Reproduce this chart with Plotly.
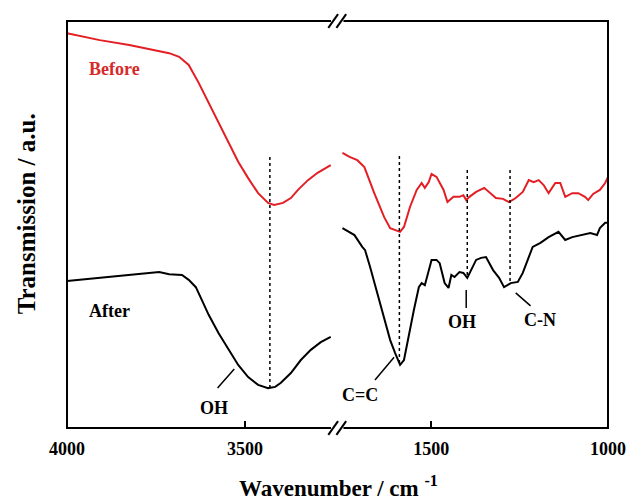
import plotly.graph_objects as go

# ---------------- data ----------------
# Left (high-wavenumber) segment
before_hi_wn = [4000, 3908, 3825, 3769, 3713, 3685, 3658, 3630, 3602, 3574, 3546, 3519, 3491,
                3463, 3435, 3418, 3393, 3371, 3351, 3323, 3296, 3259]
before_hi_t = [97.0, 95.3, 94.1, 93.1, 92.1, 91.2, 89.2, 84.8, 79.9, 74.9, 70.0, 65.4, 61.4,
               57.7, 55.3, 54.8, 55.3, 56.5, 58.5, 60.9, 62.7, 64.6]

after_hi_wn = [4000, 3908, 3816, 3741, 3713, 3677, 3658, 3638, 3621, 3602, 3574, 3546, 3519,
               3491, 3463, 3435, 3415, 3399, 3371, 3343, 3315, 3287, 3259]
after_hi_t = [36.1, 36.9, 37.6, 38.3, 37.8, 37.6, 36.4, 34.6, 31.4, 27.8, 23.3, 19.2, 15.5,
              12.5, 10.6, 9.8, 10.1, 11.1, 13.5, 16.7, 19.2, 21.1, 22.4]

# Right (fingerprint) segment
before_lo_wn = [1751, 1731, 1709, 1689, 1661, 1633, 1616, 1597, 1588, 1577, 1560, 1541, 1527,
                1518, 1507, 1499, 1485, 1465, 1454, 1437, 1420, 1409, 1401, 1392, 1373, 1350,
                1336, 1317, 1297, 1280, 1261, 1241, 1224, 1210, 1196, 1182, 1168, 1149, 1135,
                1121, 1101, 1084, 1065, 1056, 1042, 1023, 1008, 1000]
before_lo_t = [67.6, 66.6, 65.8, 64.1, 57.7, 51.8, 49.1, 48.6, 48.2, 49.4, 54.3, 58.5, 60.2,
               59.0, 60.4, 62.4, 61.7, 58.5, 55.5, 56.8, 56.8, 57.2, 56.0, 56.8, 58.0, 59.0,
               58.0, 56.5, 56.3, 55.5, 56.5, 58.0, 60.9, 60.4, 60.9, 59.7, 57.7, 60.2, 60.2,
               56.8, 57.7, 57.7, 56.8, 56.0, 57.5, 58.5, 60.2, 61.7]

after_lo_wn = [1751, 1717, 1695, 1687, 1673, 1653, 1633, 1616, 1602, 1588, 1577, 1563, 1549,
               1535, 1527, 1518, 1507, 1499, 1485, 1476, 1462, 1451, 1443, 1434, 1420, 1409,
               1398, 1387, 1373, 1359, 1345, 1325, 1308, 1294, 1275, 1255, 1241, 1224, 1213,
               1191, 1168, 1140, 1121, 1101, 1073, 1050, 1031, 1023, 1008, 1000]
after_lo_t = [49.1, 47.4, 44.5, 43.7, 39.6, 33.2, 27.3, 21.6, 18.4, 15.5, 16.7, 23.3, 29.0,
              34.6, 35.6, 35.1, 38.8, 41.3, 41.3, 40.5, 35.6, 34.4, 37.6, 37.1, 38.3, 38.1,
              36.9, 38.8, 41.3, 41.8, 42.0, 38.8, 36.9, 34.6, 35.6, 35.9, 38.1, 42.0, 44.5,
              45.5, 46.9, 48.2, 46.2, 46.9, 47.4, 47.9, 47.4, 49.1, 50.4, 50.4]

# dotted peak markers: wavenumber, top, bottom
peak_wn = [3430, 1590, 1398, 1277]
peak_top = [66.6, 66.8, 63.4, 63.4]
peak_bottom = [9.8, 15.5, 37.3, 35.6]

# band labels: text, label position, leader line start/end
band_text = ["OH", "C=C", "OH", "C-N"]
band_wn = [3588, 1701, 1412, 1191]
band_t = [4.9, 8.1, 26.0, 26.5]
lead_wn0 = [3577, 1659, 1401, 1261]
lead_t0 = [9.8, 11.8, 33.9, 33.2]
lead_wn1 = [3530, 1605, 1401, 1219]
lead_t1 = [14.5, 17.4, 29.5, 30.0]

left_range = [4000, 3240]
right_range = [1765, 1000]
left_ticks = [4000, 3500]
right_ticks = [1500, 1000]

RED = "#e31e24"
FONT = "Liberation Serif"

fig = go.Figure()

def seg(wn):
    return ("x", "y") if wn > 2500 else ("x2", "y")

fig.add_trace(go.Scatter(x=before_hi_wn, y=before_hi_t, mode="lines",
                         line=dict(color=RED, width=2), xaxis="x", yaxis="y"))
fig.add_trace(go.Scatter(x=after_hi_wn, y=after_hi_t, mode="lines",
                         line=dict(color="black", width=2), xaxis="x", yaxis="y"))
fig.add_trace(go.Scatter(x=before_lo_wn, y=before_lo_t, mode="lines",
                         line=dict(color=RED, width=2), xaxis="x2", yaxis="y"))
fig.add_trace(go.Scatter(x=after_lo_wn, y=after_lo_t, mode="lines",
                         line=dict(color="black", width=2), xaxis="x2", yaxis="y"))

for wn, t0, t1 in zip(peak_wn, peak_top, peak_bottom):
    xa, ya = seg(wn)
    fig.add_trace(go.Scatter(x=[wn, wn], y=[t0, t1], mode="lines",
                             line=dict(color="black", width=1.5, dash="dot"),
                             xaxis=xa, yaxis=ya))

for txt, wn, t, a0, b0, a1, b1 in zip(band_text, band_wn, band_t, lead_wn0, lead_t0, lead_wn1, lead_t1):
    xa, ya = seg(wn)
    fig.add_trace(go.Scatter(x=[a0, a1], y=[b0, b1], mode="lines",
                             line=dict(color="black", width=1.5), xaxis=xa, yaxis=ya))
    fig.add_annotation(x=wn, y=t, xref=xa, yref=ya, text="<b>%s</b>" % txt, showarrow=False,
                       font=dict(family=FONT, size=18, color="black"))

fig.add_annotation(x=3866, y=88.2, xref="x", yref="y", text="<b>Before</b>", showarrow=False,
                   font=dict(family=FONT, size=18, color="#d62a2a"))
fig.add_annotation(x=3880, y=28.7, xref="x", yref="y", text="<b>After</b>", showarrow=False,
                   font=dict(family=FONT, size=18, color="black"))

# axis titles (paper coords relative to plot area)
fig.add_annotation(x=0.502, y=-0.143, xref="paper", yref="paper",
                   text="<b>Wavenumber / cm <sup>-1</sup></b>", showarrow=False,
                   font=dict(family=FONT, size=23, color="black"),
                   xanchor="center", yanchor="middle")
fig.add_annotation(x=-0.075, y=0.526, xref="paper", yref="paper", textangle=-90,
                   text="<b>Transmission / a.u.</b>", showarrow=False,
                   font=dict(family=FONT, size=25, color="black"),
                   xanchor="center", yanchor="middle")

# frame and break marks (paper coords)
shapes = [dict(type="rect", xref="paper", yref="paper", x0=0, x1=1, y0=0, y1=1,
               line=dict(color="black", width=2), fillcolor="rgba(0,0,0,0)")]
for yc in (0.0, 1.0):
    shapes.append(dict(type="rect", xref="paper", yref="paper", x0=0.488, x1=0.511,
                       y0=yc - 0.004, y1=yc + 0.004, line=dict(width=0), fillcolor="white"))
    for xc in (0.492, 0.507):
        shapes.append(dict(type="line", xref="paper", yref="paper",
                           x0=xc - 0.009, x1=xc + 0.009, y0=yc - 0.017, y1=yc + 0.017,
                           line=dict(color="black", width=2)))

axis_common = dict(showgrid=False, zeroline=False, showline=False, ticks="inside",
                   ticklen=7, tickwidth=1.5, tickcolor="black", ticklabelstandoff=8,
                   tickfont=dict(family=FONT, size=18, color="black"))

fig.update_layout(
    width=638, height=501,
    margin=dict(l=67, r=25, t=21, b=73),
    paper_bgcolor="white", plot_bgcolor="white",
    showlegend=False,
    xaxis=dict(domain=[0, 0.5], range=left_range, tickvals=left_ticks,
               ticktext=["<b>%d</b>" % v for v in left_ticks], **axis_common),
    xaxis2=dict(domain=[0.5, 1], range=right_range, tickvals=right_ticks,
                ticktext=["<b>%d</b>" % v for v in right_ticks], anchor="y", **axis_common),
    yaxis=dict(range=[0, 100], showticklabels=False, ticks="", showgrid=False, zeroline=False,
               showline=False),
    shapes=shapes,
)

fig.write_html("out.html")
